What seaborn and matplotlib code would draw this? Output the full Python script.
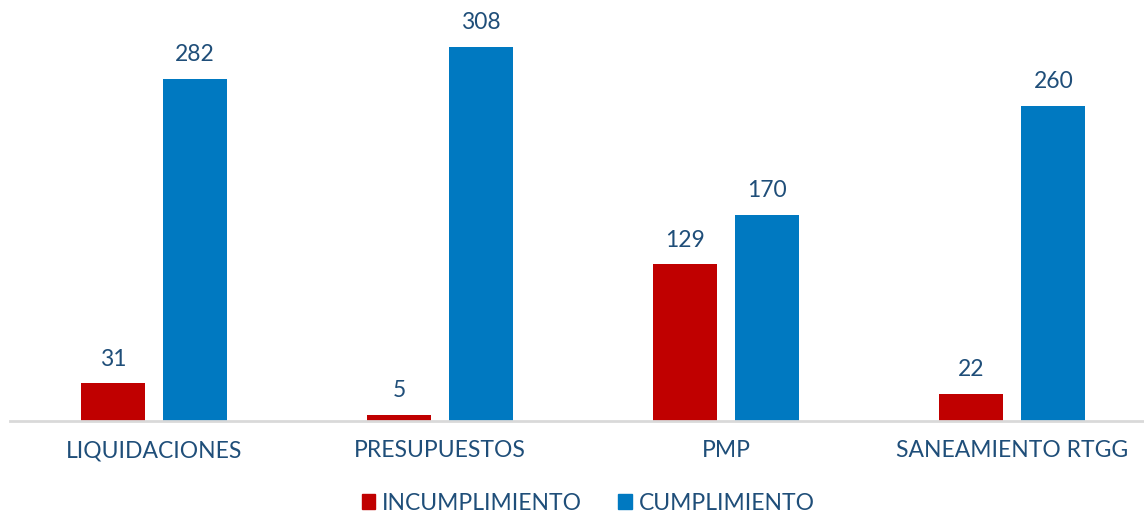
import numpy as np
import pandas as pd
import matplotlib
matplotlib.use('Agg')
import matplotlib.pyplot as plt
import seaborn as sns

# chart data
categorias = ['LIQUIDACIONES', 'PRESUPUESTOS', 'PMP', 'SANEAMIENTO RTGG']
incumplimiento = [31, 5, 129, 22]
cumplimiento = [282, 308, 170, 260]
series = ['INCUMPLIMIENTO', 'CUMPLIMIENTO']
colores = ['#C00000', '#0079C1']
color_texto = '#1F4E79'

df = pd.DataFrame({
    'categoria': categorias * 2,
    'serie': [series[0]] * 4 + [series[1]] * 4,
    'valor': incumplimiento + cumplimiento,
})

sns.set_style('white')
plt.rcParams['font.family'] = ['Lato', 'DejaVu Sans']

fig = plt.figure(figsize=(11.44, 5.13), dpi=100)
ax = fig.add_axes([10 / 1144, 92 / 513, 1134 / 1144, 421 / 513])

sns.barplot(data=df, x='categoria', y='valor', hue='serie', palette=colores,
            width=0.573, gap=0.219, ax=ax, legend=False, saturation=1, linewidth=0)

for cont in ax.containers:
    ax.bar_label(cont, padding=10, fontsize=16.5, color=color_texto)

ax.set_xlim(-0.503, 3.46)
ax.set_ylim(0, 347)
ax.set_xlabel('')
ax.set_ylabel('')
ax.set_yticks([])
ax.tick_params(axis='x', length=0, pad=14, labelsize=16.5, labelcolor=color_texto)
for s in ['top', 'right', 'left']:
    ax.spines[s].set_visible(False)
ax.spines['bottom'].set_color('#D9D9D9')
ax.spines['bottom'].set_linewidth(2)

# legend at the bottom, slightly right of centre like the original
handles = [plt.Rectangle((0, 0), 1, 1, color=c) for c in colores]
fig.legend(handles, series, loc='center', bbox_to_anchor=(588 / 1144, 10 / 513),
           ncol=2, frameon=False, fontsize=16.5, labelcolor=color_texto,
           handlelength=0.6, handleheight=0.6, handletextpad=0.3, columnspacing=1.55)

fig.savefig('out.png', dpi=100)
